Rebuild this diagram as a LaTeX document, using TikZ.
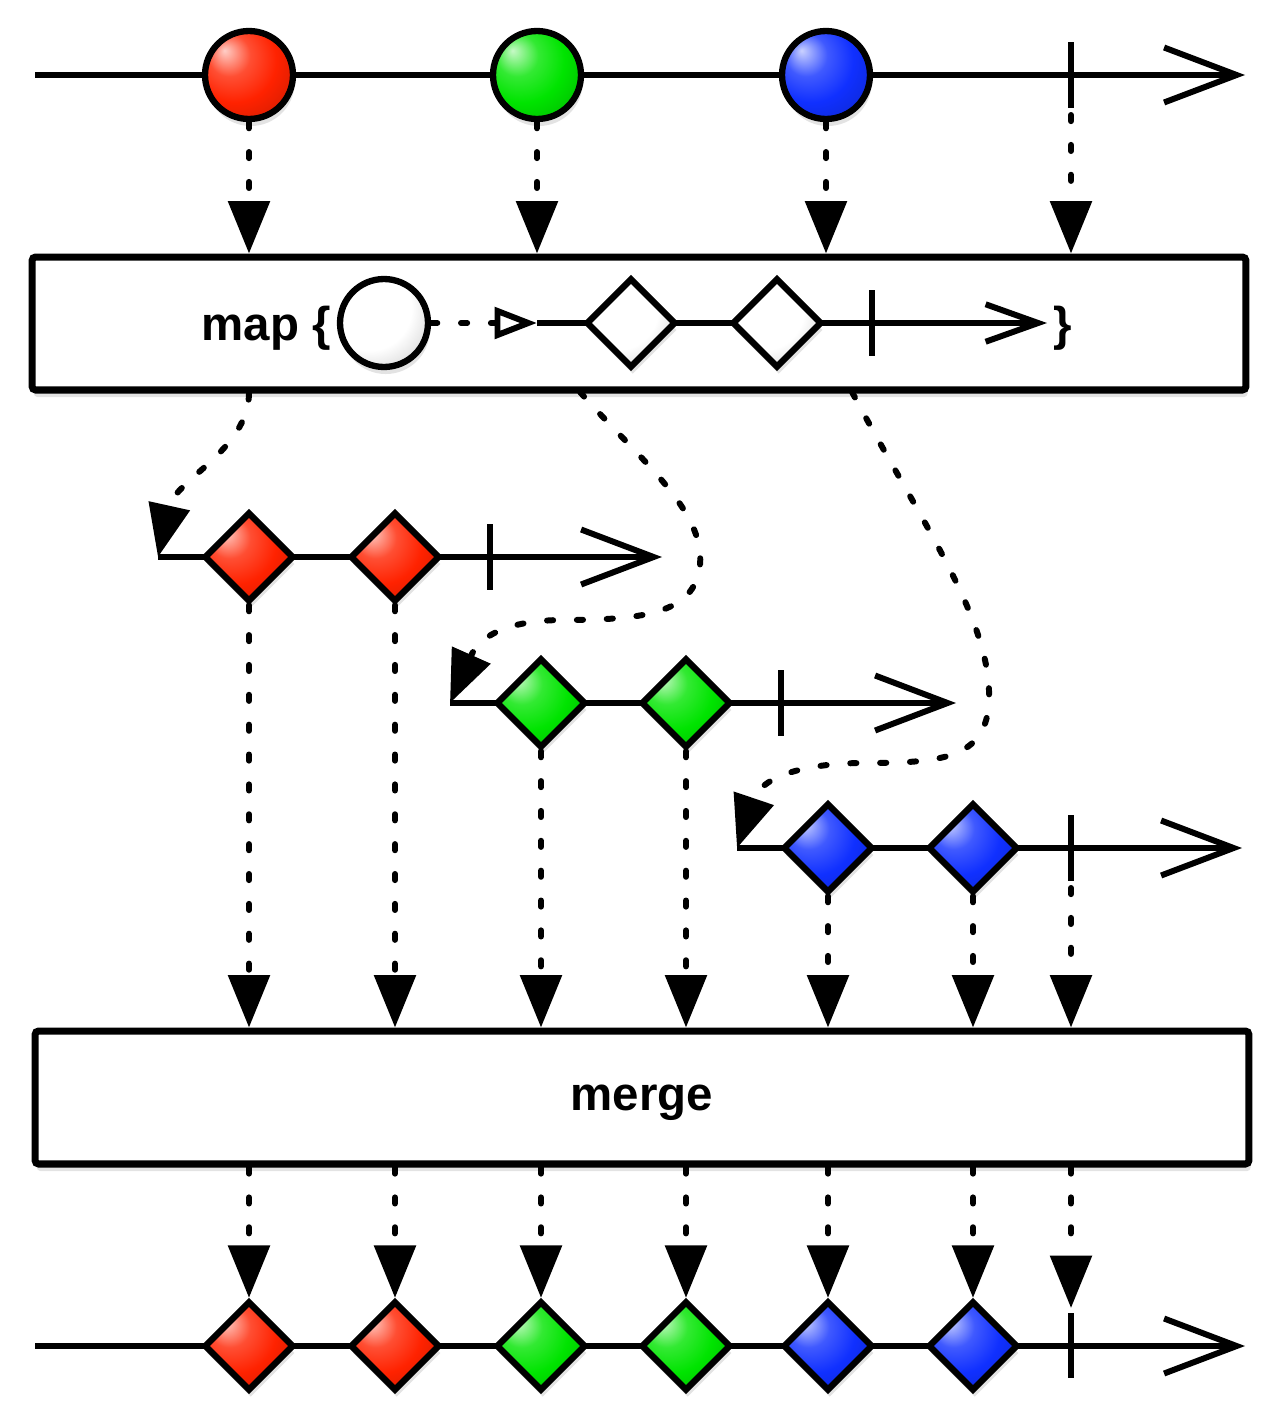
\documentclass[tikz,border=0pt]{standalone}
\usepackage{fontspec}
\setmainfont{Liberation Sans}
\usetikzlibrary{arrows.meta,shapes.geometric,shadows,calc}

\definecolor{evred}{RGB}{255,34,0}
\definecolor{evgreen}{RGB}{0,228,0}
\definecolor{evblue}{RGB}{16,48,255}

% glossy fill for marbles and gems
\makeatletter
\pgfdeclareradialshading[tikz@ball]{gloss}{\pgfqpoint{-14bp}{14bp}}{%
  color(0bp)=(tikz@ball!22!white); color(12bp)=(tikz@ball!80!white);
  color(24bp)=(tikz@ball); color(40bp)=(tikz@ball!80!black);
  color(60bp)=(tikz@ball!50!black)}
\makeatother

\begin{document}
\begin{tikzpicture}[x=0.02cm,y=-0.02cm,
  >={Triangle[length=1.05cm,width=0.82cm]},
  shade/.style={drop shadow={opacity=0.22,shadow xshift=1pt,shadow yshift=-4pt}},
  time/.style={line width=3.4pt,-{Straight Barb[length=1.45cm,width=1.1cm]}},
  minitime/.style={line width=3.4pt,-{Straight Barb[length=1.05cm,width=0.75cm]}},
  bar/.style={line width=3.4pt},
  flow/.style={line width=3.4pt,line cap=round,dash pattern=on 3.5pt off 13.5pt,->},
  marble/.style={circle,draw,line width=3.6pt,inner sep=0pt,minimum size=1.76cm,
                 ball color=#1,shading=gloss,shade},
  gem/.style={diamond,draw,line width=3.6pt,inner sep=0pt,minimum size=1.8cm,
              ball color=#1,shading=gloss,shade},
  op/.style={draw,line width=4pt,rounded corners=2pt,fill=white,shade,
             minimum width=24.28cm,minimum height=2.66cm,
             font=\fontsize{27}{32}\selectfont\bfseries},
  lbl/.style={font=\fontsize{27}{32}\selectfont\bfseries,inner sep=0pt}]
\useasboundingbox (0,0) rectangle (1280,1420);

% ---- source stream ----
\coordinate (s0) at (35,75);
\coordinate (e0) at (1245,75);
\coordinate (k0) at (1071,75);
\draw[time] (s0) -- (e0);
\draw[bar] ($(k0)+(0,-33)$) -- ($(k0)+(0,33)$);
\foreach \x/\c/\n in {249/evred/a,537/evgreen/b,826/evblue/c}
  \node[marble=\c] (\n) at (\x,75) {};

% ---- map operator ----
\node[op] (map) at (639,323.5) {};
\foreach \n in {a,b,c}
  \draw[flow] (\n.south) -- (\n.south |- map.north);
\draw[flow] ($(k0)+(0,40)$) -- (k0 |- map.north);

\node[lbl,anchor=base east] (mapword) at (331,340) {map \{};
\node[marble=white] (arg) at (384,323) {};
\coordinate (argin) at (537,323);
\coordinate (ie) at (1047,323);
\coordinate (ik) at (872,323);
\draw[flow,-{Triangle[open,length=0.85cm,width=0.62cm]}] (arg.east) -- (argin);
\draw[minitime] (argin) -- (ie);
\draw[bar] ($(ik)+(0,-33)$) -- ($(ik)+(0,33)$);
\node[gem=white] (f1) at (631,323) {};
\node[gem=white] (f2) at (777,323) {};
\node[lbl,anchor=base] (mapclose) at (1063,340) {\}};

% ---- inner streams ----
\foreach \n/\c/\y/\sx/\da/\db/\k/\ex in
   {r/evred/557/158/249/395/490/662,
    g/evgreen/703/450/541/686/781/956,
    u/evblue/848/737/828/973/1071/1242}{
  \coordinate (\n-s) at (\sx,\y);
  \coordinate (\n-e) at (\ex,\y);
  \coordinate (\n-k) at (\k,\y);
  \draw[time] (\n-s) -- (\n-e);
  \draw[bar] ($(\n-k)+(0,-33)$) -- ($(\n-k)+(0,33)$);
  \node[gem=\c] (\n-1) at (\da,\y) {};
  \node[gem=\c] (\n-2) at (\db,\y) {};
}

% ---- map spawns them ----
\coordinate (gout) at (580,392);
\coordinate (uout) at (852,392);
\draw[flow] (a |- map.south) .. controls (248,450) and (175,480) .. (r-s);
\draw[flow] (gout) .. controls (640,460) and (705,510) .. (700,565)
  .. controls (695,615) and (640,620) .. (560,620)
  .. controls (500,621) and (478,640) .. (g-s);
\draw[flow] (uout) .. controls (920,520) and (992,620) .. (989,700)
  .. controls (987,760) and (940,763) .. (860,763)
  .. controls (795,764) and (760,780) .. (u-s);

% ---- merge operator ----
\node[op,text depth=0pt] (merge) at (642,1097.5) {merge};
\foreach \n in {r-1,r-2,g-1,g-2,u-1,u-2}
  \draw[flow] (\n.south) -- (\n.south |- merge.north);
\draw[flow] ($(u-k)+(0,40)$) -- (u-k |- merge.north);

% ---- result stream ----
\coordinate (s9) at (35,1346);
\coordinate (e9) at (1245,1346);
\coordinate (k9) at (1071,1346);
\draw[time] (s9) -- (e9);
\draw[bar] ($(k9)+(0,-33)$) -- ($(k9)+(0,32)$);
\foreach \x/\c [count=\i] in {249/evred,395/evred,541/evgreen,686/evgreen,828/evblue,973/evblue}
  \node[gem=\c] (o\i) at (\x,1346) {};
\foreach \i in {1,...,6}
  \draw[flow] (o\i |- merge.south) -- (o\i.north);
\draw[flow] (k9 |- merge.south) -- ($(k9)+(0,-38)$);
\end{tikzpicture}
\end{document}
